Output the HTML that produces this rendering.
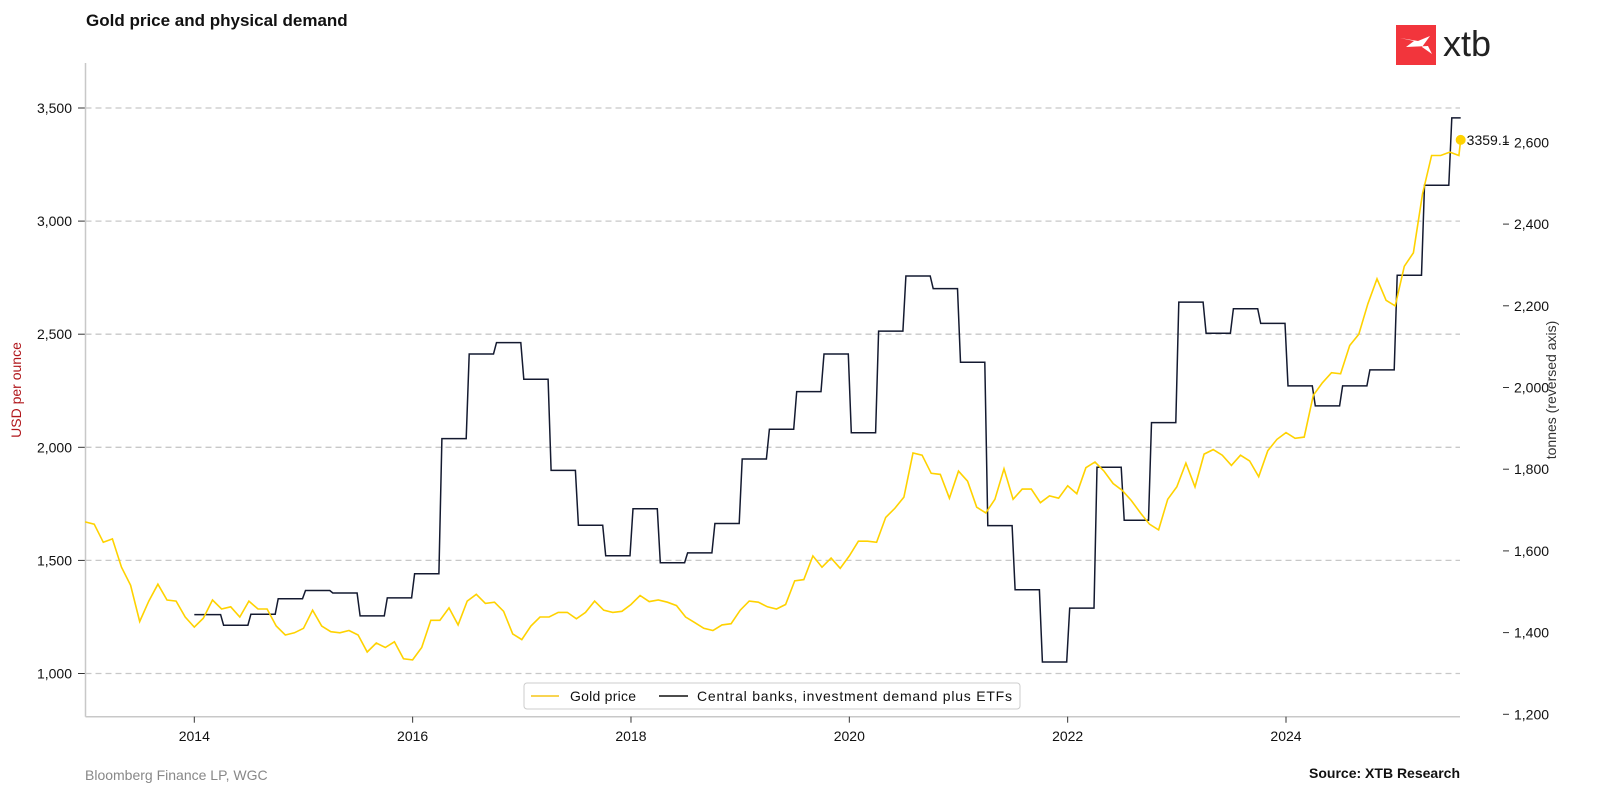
<!DOCTYPE html>
<html><head><meta charset="utf-8"><style>
body{margin:0;background:#fff;}
svg{display:block;font-family:"Liberation Sans",Arial,sans-serif;}
</style></head><body>
<svg id="chart" width="1600" height="796" viewBox="0 0 1600 796">
<text x="86" y="26" font-size="17" font-weight="bold" fill="#111">Gold price and physical demand</text>
<g>
<rect x="1396" y="25" width="40" height="40" fill="#f2353c"/>
<path d="M1400 38 L1414 41 L1406 47 L1428 46 L1432 54 L1422 47 L1430 36 L1418 41 Z" fill="#fff"/>
<text x="1443" y="56" font-size="36" fill="#222">xtb</text>
</g>
<g id="grid"></g>
<g id="axes"></g>
<g id="series"></g>
<text transform="translate(21,390) rotate(-90)" text-anchor="middle" font-size="14" fill="#b0161b">USD per ounce</text>
<text transform="translate(1556,390) rotate(-90)" text-anchor="middle" font-size="14" fill="#333">tonnes (reversed axis)</text>
<g>
<rect x="524" y="683" width="496" height="26" rx="3" fill="#fff" stroke="#ccc"/>
<line x1="531" y1="696" x2="559" y2="696" stroke="#f5c518" stroke-width="1.5"/>
<text x="570" y="701" font-size="14" fill="#111" textLength="66">Gold price</text>
<line x1="659" y1="696" x2="688" y2="696" stroke="#111" stroke-width="1.5"/>
<text x="697" y="701" font-size="14" fill="#111" textLength="315">Central banks, investment demand plus ETFs</text>
</g>
<text x="85" y="780" font-size="14" fill="#888">Bloomberg Finance LP, WGC</text>
<text x="1460" y="778" font-size="14" font-weight="bold" fill="#111" text-anchor="end">Source: XTB Research</text>
</svg>
<script>
// Gold price, monthly from Jan 2013
const goldStart = 2013.0;
const goldPrices = [1670,1660,1580,1595,1470,1390,1230,1320,1395,1325,1320,1250,
1205,1245,1325,1285,1295,1250,1320,1285,1285,1210,1170,1180,
1200,1280,1210,1185,1180,1190,1170,1095,1135,1115,1140,1065,
1060,1115,1235,1235,1290,1215,1320,1350,1310,1315,1275,1175,
1150,1210,1250,1250,1270,1270,1242,1270,1320,1280,1270,1275,
1305,1345,1318,1325,1315,1300,1250,1225,1200,1190,1215,1220,
1280,1320,1315,1295,1285,1305,1410,1415,1520,1470,1510,1465,
1520,1585,1585,1580,1690,1730,1780,1975,1965,1885,1880,1775,
1895,1850,1735,1710,1770,1905,1770,1815,1815,1755,1785,1775,
1830,1795,1910,1935,1895,1840,1810,1765,1710,1660,1635,1770,
1825,1930,1825,1970,1990,1965,1920,1965,1940,1870,1985,2035,
2065,2040,2045,2230,2285,2330,2325,2450,2500,2635,2745,2650,
2625,2800,2860,3120,3290,3290,3305,3290,3359.1];
// Central banks + investment + ETFs, quarterly from 2014Q1 (tonnes)
const demandStart = 2014.0;
const demand = [1444,1418,1445,1483,1503,1497,1441,1485,1544,1875,2082,2110,
2020,1797,1663,1588,1703,1571,1595,1667,1825,1898,1990,2082,
1889,2138,2273,2242,2062,1662,1505,1328,1460,1805,1675,1914,
2209,2133,2193,2157,2004,1955,2004,2043,2275,2495,2660];
const demandEnd = 2025.6;
const leftTicks = [1000,1500,2000,2500,3000,3500];
const rightTicks = [1200,1400,1600,1800,2000,2200,2400,2600];
const xTicks = [2014,2016,2018,2020,2022,2024];
const lastLabel = "3359.1";

const NS="http://www.w3.org/2000/svg";
const X0=85.5,X1=1460,YT=63,YB=716.7;
function xs(t){return 194.3+(t-2014)*109.17;}
function yl(v){return 673.5-(v-1000)*0.2262;}
function yr(v){return 714.3-(v-1200)*0.4085;}
function mk(tag,attrs,parent){const e=document.createElementNS(NS,tag);for(const k in attrs)e.setAttribute(k,attrs[k]);parent.appendChild(e);return e;}
const grid=document.getElementById('grid'),axes=document.getElementById('axes'),series=document.getElementById('series');
leftTicks.forEach(v=>{
  const g=mk('line',{x1:X0,x2:X1,y1:yl(v),y2:yl(v),stroke:'#c8c8c8','stroke-dasharray':'6,4','stroke-width':1.3},grid);
  
  
  mk('line',{x1:78,x2:X0,y1:yl(v),y2:yl(v),stroke:'#333'},axes);
  const t=mk('text',{x:72,y:yl(v)+5,'text-anchor':'end','font-size':14,fill:'#111'},axes);
  t.textContent=v.toLocaleString('en-US');
  
  
});
rightTicks.forEach(v=>{
  mk('line',{x1:1503,x2:1509,y1:yr(v),y2:yr(v),stroke:'#333'},axes);
  const t=mk('text',{x:1514,y:yr(v)+5,'font-size':14,fill:'#111'},axes);
  t.textContent=v.toLocaleString('en-US');
  
  
});
const la=mk('line',{x1:X0,x2:X0,y1:YT,y2:YB,stroke:'#c8c8c8','stroke-width':1.5},axes);


const ba=mk('line',{x1:X0,x2:X1,y1:YB,y2:YB,stroke:'#c8c8c8','stroke-width':1.5},axes);


xTicks.forEach(y=>{
  mk('line',{x1:xs(y),x2:xs(y),y1:YB,y2:YB+6,stroke:'#333'},axes);
  const t=mk('text',{x:xs(y),y:741,'text-anchor':'middle','font-size':14,fill:'#111'},axes);
  t.textContent=y;
  
  
});
// demand step line
let d='';
demand.forEach((v,i)=>{
  const t0=demandStart+i/4, t1=Math.min(demandStart+(i+1)/4,demandEnd);
  const a=xs(t0)+(i>0?2:0), b=xs(t1)-(i<demand.length-1?1:0);
  d+=(i===0?'M':'L')+a.toFixed(1)+' '+yr(v).toFixed(1)+' L'+b.toFixed(1)+' '+yr(v).toFixed(1)+' ';
});
const dp=mk('path',{d:d,fill:'none',stroke:'#141a30','stroke-width':1.5},series);


// gold line
let g='';
goldPrices.forEach((v,i)=>{
  const t=Math.min(goldStart+i/12,2025.6);
  g+=(i===0?'M':'L')+xs(t).toFixed(1)+' '+yl(v).toFixed(1)+' ';
});
const gp=mk('path',{d:g,fill:'none',stroke:'#ffd200','stroke-width':1.6},series);


const lv=goldPrices[goldPrices.length-1];
const dot=mk('circle',{cx:xs(2025.6),cy:yl(lv),r:5,fill:'#ffd200'},series);


const lt=mk('text',{x:xs(2025.6)+6,y:yl(lv)+5,'font-size':14,fill:'#111'},series);
lt.textContent=lastLabel;


</script>
</body></html>
